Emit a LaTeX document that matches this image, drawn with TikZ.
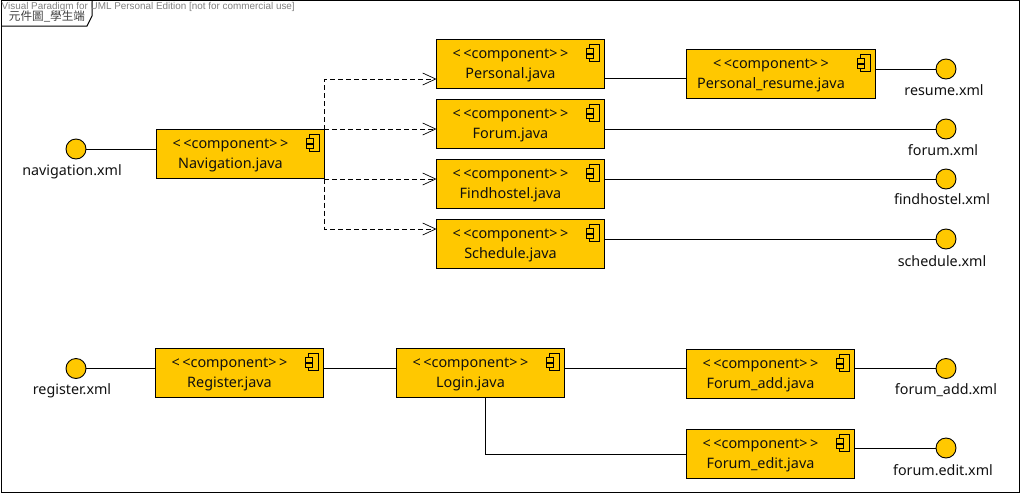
\documentclass[tikz,border=0pt]{standalone}
\usepackage{fontspec}
\setmainfont{Noto Sans}
\newfontfamily\wmfont{Liberation Sans}
\newfontfamily\cjkfont{Noto Sans CJK TC}
\usepackage{xcolor}
\usetikzlibrary{arrows.meta,positioning}
\definecolor{compfill}{HTML}{FFC800}
\definecolor{ink}{HTML}{101010}
\newcommand{\compstereo}{<\,<component>\,>}
\tikzset{
  compbox/.style={
    draw=black, fill=compfill, line width=1pt, outer sep=0pt, inner sep=0pt,
    minimum width=168pt, minimum height=49pt},
  comptext/.style={
    align=center, inner sep=0pt, text=ink, font=\fontsize{14.4}{19.5}\selectfont},
  iface/.style={
    circle, draw=black, fill=compfill, line width=0.9pt, outer sep=0pt,
    inner sep=0pt, minimum size=20pt},
  xmltext/.style={
    inner sep=0pt, text=ink, text height=10pt, text depth=3pt,
    font=\fontsize{14.3}{15}\selectfont},
  link/.style={line width=1pt, color=black},
  depends/.style={
    -{Straight Barb[length=13pt,width=12pt,line width=0.7pt]},
    line width=0.9pt, dash pattern=on 5pt off 3pt, color=black},
  compicon/.pic={
    \draw[line width=0.9pt, fill=compfill] (2.6,0) rectangle (13.3,16.7);
    \draw[line width=0.9pt, fill=compfill] (0,3.7) rectangle (7,8.7);
    \draw[line width=0.9pt, fill=compfill] (0,9.7) rectangle (7,14.3);
  },
}

\begin{document}
\begin{tikzpicture}[x=1pt,y=-1pt]
  \useasboundingbox (0,0) rectangle (1021,493);

  % frame and its name tag
  \draw[line width=1pt] (1,0.5) rectangle (1019.5,492);
  \draw[line width=1pt] (1,26) -- (87,26) -- (92,16) -- (92,0.5);
  \node[inner sep=0pt, text=black!75, font=\cjkfont\fontsize{11.6}{14}\selectfont] (title) at (47,16) {元件圖\_學生端};
  \node[anchor=west, inner sep=0pt, text=black!50, font=\wmfont\fontsize{9.9}{12}\selectfont] (watermark) at (1.5,7)
    {Visual Paradigm for UML Personal Edition [not for commercial use]};

  % upper group
  \node[compbox] (navigation) at (240.5,154) {};
  \node[compbox] (forum) at (520.5,124) {};
  \node[compbox, above=11pt of forum] (personal) {};
  \node[compbox, below=11pt of forum] (findhostel) {};
  \node[compbox, below=11pt of findhostel] (schedule) {};
  \node[compbox, minimum width=189pt, right=82pt of personal, yshift=-10pt] (resume) {};

  % lower group
  \node[compbox] (register) at (239.5,373) {};
  \node[compbox, right=73pt of register] (login) {};
  \node[compbox, right=122pt of login, yshift=-1pt] (forumadd) {};
  \node[compbox, below=31pt of forumadd] (forumedit) {};

  % box texts
  \node[comptext] (navigationtext) at ([xshift=-10pt,yshift=-1.5pt]navigation.center) {\compstereo\\Navigation.java};
  \node[comptext] (forumtext) at ([xshift=-10pt,yshift=-1.5pt]forum.center) {\compstereo\\Forum.java};
  \node[comptext] (personaltext) at ([xshift=-10pt,yshift=-1.5pt]personal.center) {\compstereo\\Personal.java};
  \node[comptext] (findhosteltext) at ([xshift=-10pt,yshift=-1.5pt]findhostel.center) {\compstereo\\Findhostel.java};
  \node[comptext] (scheduletext) at ([xshift=-10pt,yshift=-1.5pt]schedule.center) {\compstereo\\Schedule.java};
  \node[comptext] (resumetext) at ([xshift=-10pt,yshift=-1.5pt]resume.center) {\compstereo\\Personal\_resume.java};
  \node[comptext] (registertext) at ([xshift=-10pt,yshift=-1.5pt]register.center) {\compstereo\\Register.java};
  \node[comptext] (logintext) at ([xshift=-10pt,yshift=-1.5pt]login.center) {\compstereo\\Login.java};
  \node[comptext] (forumaddtext) at ([xshift=-10pt,yshift=-1.5pt]forumadd.center) {\compstereo\\Forum\_add.java};
  \node[comptext] (forumedittext) at ([xshift=-10pt,yshift=-1.5pt]forumedit.center) {\compstereo\\Forum\_edit.java};

  \foreach \b in {navigation,forum,personal,findhostel,schedule,resume,register,login,forumadd,forumedit}
    \pic at ([xshift=-18pt,yshift=-5pt]\b.north east) {compicon};

  % xml interfaces
  \node[iface] (navigationxml) at (76,149) {};
  \node[iface] (resumexml) at (946,69) {};
  \node[iface] (forumxml) at (946,129) {};
  \node[iface] (findhostelxml) at (946,179) {};
  \node[iface] (schedulexml) at (946,239) {};
  \node[iface] (registerxml) at (76,368.5) {};
  \node[iface] (forumaddxml) at (946,368.5) {};
  \node[iface] (forumeditxml) at (946,448) {};

  \node[xmltext, below=6pt of navigationxml, xshift=-4pt] (navigationlabel) {navigation.xml};
  \node[xmltext, below=6pt of resumexml, xshift=-2pt] (resumelabel) {resume.xml};
  \node[xmltext, below=6pt of forumxml, xshift=-3pt] (forumlabel) {forum.xml};
  \node[xmltext, below=5pt of findhostelxml, xshift=-4pt] (findhostellabel) {findhostel.xml};
  \node[xmltext, below=7pt of schedulexml, xshift=-4pt] (schedulelabel) {schedule.xml};
  \node[xmltext, below=6pt of registerxml, xshift=-4pt] (registerlabel) {register.xml};
  \node[xmltext, below=6pt of forumaddxml, xshift=0pt] (forumaddlabel) {forum\_add.xml};
  \node[xmltext, below=7pt of forumeditxml, xshift=-3pt] (forumeditlabel) {forum.edit.xml};

  % connectors
  \draw[depends] (navigation.north east) |- ([yshift=-15pt]personal.west);
  \draw[depends] (navigation.north east) |- ([yshift=-5pt]forum.west);
  \draw[depends] (navigation.south east) |- ([yshift=5pt]findhostel.west);
  \draw[depends] (navigation.south east) |- ([yshift=15pt]schedule.west);

  \draw[link] (navigationxml) -- (navigationxml -| navigation.west);
  \draw[link] ([yshift=-14.5pt]personal.east) -- ([yshift=-14.5pt]personal.east -| resume.west);
  \draw[link] (resume.east |- resumexml) -- (resumexml);
  \draw[link] (forum.east |- forumxml) -- (forumxml);
  \draw[link] (findhostel.east |- findhostelxml) -- (findhostelxml);
  \draw[link] (schedule.east |- schedulexml) -- (schedulexml);

  \draw[link] (registerxml) -- (registerxml -| register.west);
  \draw[link] (register.east |- registerxml) -- (registerxml -| login.west);
  \draw[link] (login.east |- forumaddxml) -- (forumaddxml -| forumadd.west);
  \draw[link] (forumadd.east |- forumaddxml) -- (forumaddxml);
  \draw[link] ([xshift=5.2pt]login.south) |- (forumedit.west);
  \draw[link] (forumedit.east |- forumeditxml) -- (forumeditxml);
\end{tikzpicture}
\end{document}
